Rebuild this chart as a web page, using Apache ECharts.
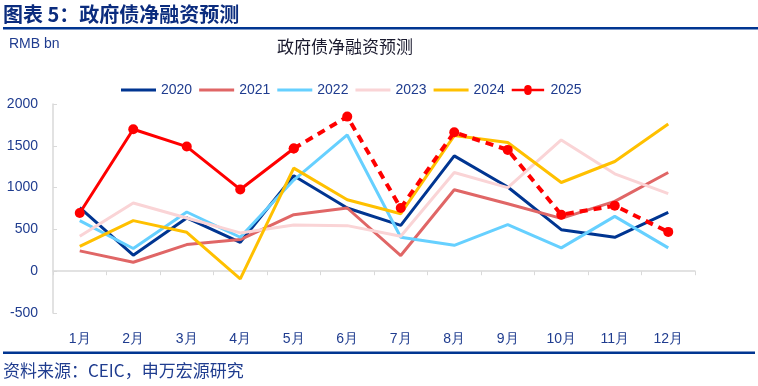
<!DOCTYPE html>
<html>
<head>
<meta charset="utf-8">
<script src="https://cdn.jsdelivr.net/npm/echarts@6/dist/echarts.min.js"></script>
<style>
html,body{margin:0;padding:0;background:#fff;}
#chart{width:758px;height:386px;}
</style>
</head>
<body>
<div id="chart"></div>
<script>
var months = ['1月','2月','3月','4月','5月','6月','7月','8月','9月','10月','11月','12月'];
var yTicks = { min: -500, max: 2000, interval: 500 };
var s2020 = [760, 191, 637, 346, 1141, 756, 549, 1380, 1007, 497, 405, 704];
var s2021 = [243, 107, 318, 378, 676, 756, 187, 974, 807, 632, 835, 1181];
var s2022 = [605, 271, 708, 406, 1090, 1630, 406, 310, 557, 279, 656, 279];
var s2023 = [418, 815, 637, 458, 553, 545, 418, 1181, 1000, 1570, 1165, 927];
var s2024 = [298, 605, 465, -91, 1233, 855, 688, 1622, 1539, 1061, 1312, 1761];
var s2025actual = [696, 1698, 1491, 978, 1467, null, null, null, null, null, null, null];
var s2025forecast = [null, null, null, null, 1467, 1849, 756, 1662, 1451, 676, 784, 470];

var navy = '#1F3C8F';
var lineIcon = 'path://M0,3.6L35,3.6L35,6.4L0,6.4Z';
var markIcon = 'path://M0,3.6L13.5,3.6A3.6,3.6 0 0 1 21.5,3.6L35,3.6L35,6.4L21.5,6.4A3.6,3.6 0 0 1 13.5,6.4L0,6.4Z M17.5,1.2A3.8,3.8 0 1 1 17.49,1.2Z';
var chart = echarts.init(document.getElementById('chart'), null, {renderer: 'canvas'});
function line(name, data, color, extra) {
  var o = {
    name: name, type: 'line', data: data, symbol: 'none',
    lineStyle: {color: color, width: 3}, itemStyle: {color: color},
    animation: false
  };
  for (var k in extra) o[k] = extra[k];
  return o;
}
chart.setOption({
  animation: false,
  graphic: [
    {type: 'text', left: 3, top: 4, style: {text: '图表 5：政府债净融资预测', font: 'bold 20px "Noto Sans CJK SC"', fill: '#0B2C7E'}},
    {type: 'rect', shape: {x: 3, y: 27, width: 755, height: 2.5}, style: {fill: '#003591'}},
    {type: 'text', left: 9, top: 37, style: {text: 'RMB bn', font: '14px "Liberation Sans", Arial', fill: '#1F3C8F'}},
    {type: 'text', left: 277, top: 38, style: {text: '政府债净融资预测', font: '17px "Noto Sans CJK SC"', fill: '#1a1a2e'}},
    {type: 'rect', shape: {x: 3, y: 351.5, width: 752, height: 2.5}, style: {fill: '#003591'}},
    {type: 'text', left: 3, top: 362, style: {text: '资料来源：CEIC，申万宏源研究', font: '17px "Noto Sans CJK SC"', fill: '#1F3C8F'}}
  ],
  legend: {
    top: 78, left: 116, itemWidth: 35, itemHeight: 10, itemGap: 7,
    textStyle: {color: navy, fontSize: 14, fontFamily: '"Liberation Sans", Arial'},
    data: [
      {name: '2020', icon: lineIcon}, {name: '2021', icon: lineIcon}, {name: '2022', icon: lineIcon},
      {name: '2023', icon: lineIcon}, {name: '2024', icon: lineIcon},
      {name: '2025', icon: markIcon}
    ]
  },
  grid: {left: 53, right: 63, top: 104, bottom: 73, containLabel: false},
  xAxis: [
    {type: 'category', data: months, boundaryGap: true, position: 'bottom',
     axisLine: {show: false, onZero: false}, axisTick: {show: false},
     axisLabel: {color: navy, fontSize: 14, margin: 19, fontFamily: '"Liberation Sans", Arial'}},
    {type: 'category', data: months, boundaryGap: true, position: 'bottom',
     axisLine: {show: true, onZero: true, lineStyle: {color: '#D9D9D9', width: 1.5}},
     axisTick: {show: true, length: 4, lineStyle: {color: '#D9D9D9'}},
     axisLabel: {show: false}}
  ],
  yAxis: {
    type: 'value', min: yTicks.min, max: yTicks.max, interval: yTicks.interval,
    axisLine: {show: true, lineStyle: {color: '#D9D9D9', width: 1.5}},
    axisTick: {show: true, inside: true, length: 4, lineStyle: {color: '#D9D9D9'}},
    splitLine: {show: false},
    axisLabel: {color: navy, fontSize: 14, margin: 15, fontFamily: '"Liberation Sans", Arial',
                formatter: function (v) { return String(v); }}
  },
  series: [
    line('2020', s2020, '#003591', {}),
    line('2021', s2021, '#E06666', {}),
    line('2022', s2022, '#66D0FF', {}),
    line('2023', s2023, '#FAD4D6', {}),
    line('2024', s2024, '#FFC000', {}),
    line('2025', s2025actual, '#FF0000', {symbol: 'circle', symbolSize: 10, showSymbol: true}),
    {name: '2025预测', type: 'line', data: s2025forecast, symbol: 'circle', symbolSize: 10,
     lineStyle: {color: '#FF0000', width: 4, type: [8, 6]}, itemStyle: {color: '#FF0000'}, animation: false}
  ]
});
</script>
</body>
</html>
